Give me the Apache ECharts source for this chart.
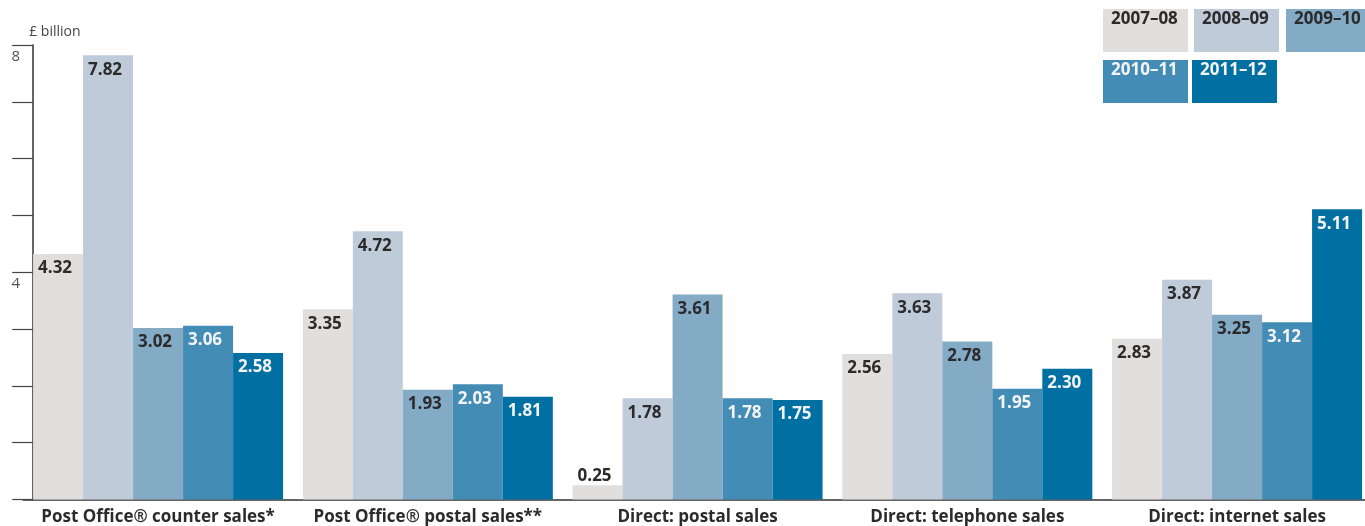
<!DOCTYPE html>
<html>
<head>
<meta charset="utf-8">
<script src="https://cdn.jsdelivr.net/npm/echarts@6/dist/echarts.min.js"></script>
<style>
html,body{margin:0;padding:0;background:#fff;}
#chart{width:1365px;height:526px;}
</style>
</head>
<body>
<div id="chart"></div>
<script>
var categories = ['Post Office\u00ae counter sales*', 'Post Office\u00ae postal sales**', 'Direct: postal sales', 'Direct: telephone sales', 'Direct: internet sales'];
var years = ['2007\u201308', '2008\u201309', '2009\u201310', '2010\u201311', '2011\u201312'];
var v2007_08 = [4.32, 3.35, 0.25, 2.56, 2.83];
var v2008_09 = [7.82, 4.72, 1.78, 3.63, 3.87];
var v2009_10 = [3.02, 1.93, 3.61, 2.78, 3.25];
var v2010_11 = [3.06, 2.03, 1.78, 1.95, 3.12];
var v2011_12 = [2.58, 1.81, 1.75, 2.30, 5.11];
var yTickLabels = [4, 8];

var seriesValues = [v2007_08, v2008_09, v2009_10, v2010_11, v2011_12];
var colors = ['#e0dfdd', '#bfcbd8', '#83abc6', '#438cb6', '#0070a2'];
var textColors = ['#2b2b2b', '#2b2b2b', '#2b2b2b', '#f4f4f4', '#f4f4f4'];
var FONT = '"Open Sans", "Liberation Sans", sans-serif';

var series = seriesValues.map(function (vals, i) {
  return {
    name: years[i],
    type: 'bar',
    barWidth: 50,
    barGap: '0%',
    itemStyle: { color: colors[i] },
    label: {
      show: true,
      position: [5, 6],
      color: textColors[i],
      fontFamily: FONT,
      fontWeight: 'bold',
      fontSize: 17,
      formatter: function (p) { return p.value.toFixed(2); }
    },
    data: vals.map(function (v) {
      if (v < 0.6) {
        return { value: v, label: { position: [5, -18], color: '#2b2b2b' } };
      }
      return v;
    })
  };
});

var legendPos = [[1103, 9], [1194, 9], [1286, 9], [1103, 60], [1192, 60]];
var graphics = years.map(function (y, i) {
  return {
    type: 'group',
    x: legendPos[i][0],
    y: legendPos[i][1],
    children: [
      { type: 'rect', shape: { x: 0, y: 0, width: 85, height: 43 }, style: { fill: colors[i] } },
      { type: 'text', x: 8, y: 2, style: { text: y, fill: textColors[i], font: 'bold 17px ' + FONT } }
    ]
  };
});

var chart = echarts.init(document.getElementById('chart'));
chart.setOption({
  animation: false,
  grid: { left: 23.2, top: 45, width: 1348.75, height: 454.5, outerBoundsMode: 'none', containLabel: false },
  xAxis: {
    type: 'category',
    data: categories,
    axisLine: { lineStyle: { color: '#333', width: 1.5 } },
    axisTick: { show: false },
    axisLabel: {
      margin: 9,
      color: '#2b2b2b',
      fontFamily: FONT,
      fontWeight: 'bold',
      fontSize: 17,
      interval: 0
    }
  },
  yAxis: {
    type: 'value',
    min: 0,
    max: 8,
    interval: 1,
    offset: -10,
    name: '\u00a3 billion',
    nameLocation: 'end',
    nameGap: 6,
    nameTextStyle: { color: '#444', fontFamily: FONT, fontSize: 14, align: 'left', padding: [0, 0, 0, -4] },
    axisLine: { show: true, lineStyle: { color: '#333', width: 1.5 } },
    axisTick: { show: true, length: 21, lineStyle: { color: '#444', width: 1.2 } },
    splitLine: { show: false },
    axisLabel: {
      margin: 13,
      color: '#555',
      fontFamily: FONT,
      fontSize: 15,
      verticalAlign: 'top',
      padding: [4, 0, 0, 0],
      formatter: function (v) { return yTickLabels.indexOf(v) >= 0 ? String(v) : ''; }
    }
  },
  graphic: graphics,
  series: series
});
</script>
</body>
</html>
